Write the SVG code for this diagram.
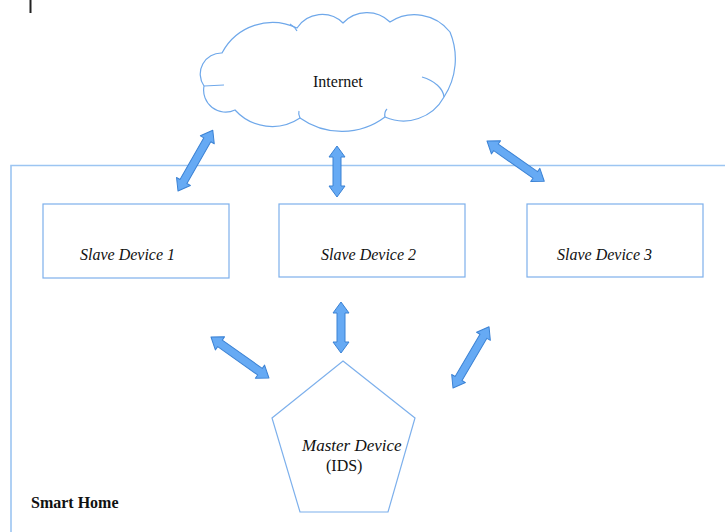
<svg xmlns="http://www.w3.org/2000/svg" width="725" height="532" viewBox="0 0 725 532">
  <style>
    .shape { fill: #ffffff; stroke: #7db0ec; stroke-width: 1.2; }
    .frame { fill: none; stroke: #9cc5f2; stroke-width: 1.6; }
    .cloud { fill: #ffffff; stroke: #6fa8ea; stroke-width: 1.2; }
    .cloud-inner { fill: none; stroke: #6fa8ea; stroke-width: 1.2; }
    .arrow { fill: #66aaf4; stroke: #3b82d4; stroke-width: 1; stroke-linejoin: round; }
    .label { font-family: "Liberation Serif", "Times New Roman", serif; font-size: 16px; fill: #111; }
    .italic { font-style: italic; }
    .bold { font-weight: bold; }
  </style>

  <!-- text cursor mark -->
  <rect x="29.5" y="0" width="2" height="13" fill="#222"/>

  <!-- Smart Home boundary -->
  <g id="smart-home">
    <path class="frame" d="M11 532 V165.5 H725"/>
    <text class="label bold" x="31" y="508">Smart Home</text>
  </g>

  <!-- Internet cloud -->
  <g id="internet">
    <path class="cloud" d="M222 53
      A57 57 0 0 1 297 28
      A30 30 0 0 1 343 23
      A33 33 0 0 1 390 22
      A45 45 0 0 1 450 32
      A70 70 0 0 1 444 97
      A46 46 0 0 1 385 117
      A72 72 0 0 1 300 118
      A50 50 0 0 1 235 110
      A22 22 0 0 1 204 86
      A21 21 0 0 1 222 53 Z"/>
    <path class="cloud-inner" d="M422 77 A40 24 0 0 1 444 97"/>
    <path class="cloud-inner" d="M204 86 L224 85"/>
    <path class="cloud-inner" d="M290 24 Q295 27 297 31"/>
    <path class="cloud-inner" d="M385 117 Q384 112 387 109"/>
    <path class="cloud-inner" d="M300 118 Q298 114 299 111"/>
    <text class="label" x="313" y="87">Internet</text>
  </g>

  <!-- Slave devices -->
  <g id="slave-1">
    <rect class="shape" x="43" y="204" width="186" height="74"/>
    <text class="label italic" x="80" y="260">Slave Device 1</text>
  </g>
  <g id="slave-2">
    <rect class="shape" x="279" y="204" width="186" height="73"/>
    <text class="label italic" x="321" y="260">Slave Device 2</text>
  </g>
  <g id="slave-3">
    <rect class="shape" x="527" y="204" width="176" height="73"/>
    <text class="label italic" x="557" y="260">Slave Device 3</text>
  </g>

  <!-- Master device -->
  <g id="master">
    <polygon class="shape" points="343,361 415,418 388,512 300,512 272,418"/>
    <text class="label italic" x="302" y="451" style="font-size:17px">Master Device</text>
    <text class="label" x="326" y="471">(IDS)</text>
  </g>

  <!-- Two-way links -->
  <g id="connectors">
    <path class="arrow" transform="translate(178 191) rotate(-60.2)" d="M0 0 L11 -8 L11 -4 L59 -4 L59 -8 L70 0 L59 8 L59 4 L11 4 L11 8 Z"/>
    <path class="arrow" transform="translate(337 197) rotate(-90)" d="M0 0 L11 -8 L11 -4 L40 -4 L40 -8 L51 0 L40 8 L40 4 L11 4 L11 8 Z"/>
    <path class="arrow" transform="translate(487 141) rotate(35.1)" d="M0 0 L11 -8 L11 -4 L59 -4 L59 -8 L70 0 L59 8 L59 4 L11 4 L11 8 Z"/>
    <path class="arrow" transform="translate(211 337) rotate(35.3)" d="M0 0 L11 -8 L11 -4 L60 -4 L60 -8 L71 0 L60 8 L60 4 L11 4 L11 8 Z"/>
    <path class="arrow" transform="translate(341 353) rotate(-90)" d="M0 0 L11 -8 L11 -4 L40 -4 L40 -8 L51 0 L40 8 L40 4 L11 4 L11 8 Z"/>
    <path class="arrow" transform="translate(453 388) rotate(-59.5)" d="M0 0 L11 -8 L11 -4 L60 -4 L60 -8 L71 0 L60 8 L60 4 L11 4 L11 8 Z"/>
  </g>
</svg>
